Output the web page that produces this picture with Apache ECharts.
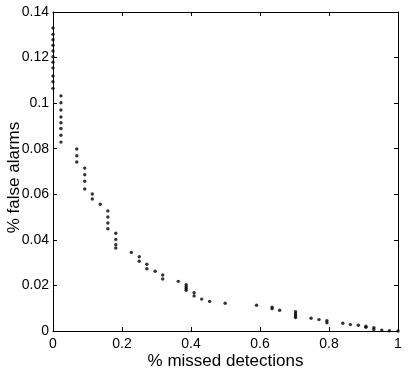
<!DOCTYPE html>
<html>
<head>
<meta charset="utf-8">
<script src="https://cdn.jsdelivr.net/npm/echarts@6/dist/echarts.min.js"></script>
<style>
html, body { margin: 0; padding: 0; background: #fff; }
#main { width: 411px; height: 372px; }
</style>
</head>
<body>
<div id="main"></div>
<script>
// % missed detections (x) and % false alarms (y)
var missed = [
    0, 0, 0, 0, 0, 0, 0, 0, 0, 0, 0,
    0.023, 0.023, 0.023, 0.023, 0.023, 0.023, 0.023, 0.023,
    0.069, 0.069, 0.069,
    0.092, 0.092, 0.092, 0.092,
    0.114, 0.114,
    0.137,
    0.159, 0.159, 0.159, 0.159,
    0.182, 0.182, 0.182, 0.182,
    0.227,
    0.250, 0.250,
    0.272, 0.272,
    0.296,
    0.318, 0.318,
    0.363,
    0.386, 0.386, 0.386, 0.386,
    0.409, 0.409,
    0.431,
    0.454,
    0.499,
    0.590,
    0.635, 0.635,
    0.657,
    0.703, 0.703, 0.703, 0.703,
    0.748,
    0.771,
    0.794, 0.794,
    0.840,
    0.862,
    0.885,
    0.907, 0.907,
    0.930, 0.930,
    0.953,
    0.975,
    1
];
var falseAlarms = [
    0.1330, 0.1302, 0.1278, 0.1254, 0.1229, 0.1204, 0.1180, 0.1155, 0.1119, 0.1094, 0.1065,
    0.1032, 0.1002, 0.0970, 0.0939, 0.0914, 0.0889, 0.0859, 0.0829,
    0.0799, 0.0769, 0.0742,
    0.0715, 0.0686, 0.0657, 0.0623,
    0.0601, 0.0579,
    0.0556,
    0.0527, 0.0500, 0.0474, 0.0449,
    0.0429, 0.0402, 0.0379, 0.0364,
    0.0345,
    0.0326, 0.0306,
    0.0293, 0.0273,
    0.0262,
    0.0246, 0.0228,
    0.0218,
    0.0203, 0.0194, 0.0186, 0.0179,
    0.0168, 0.0154,
    0.0140,
    0.0130,
    0.0122,
    0.0113,
    0.0105, 0.0098,
    0.0091,
    0.0085, 0.0076, 0.0067, 0.0059,
    0.0056,
    0.0050,
    0.0045, 0.0036,
    0.0034,
    0.0028,
    0.0025,
    0.0021, 0.0016,
    0.0015, 0.0007,
    0.0004,
    0.0001,
    0
];

var points = [];
for (var i = 0; i < missed.length; i++) {
    points.push([missed[i], falseAlarms[i]]);
}

var font = "'Liberation Sans', Arial, sans-serif";
var tick = { show: true, inside: true, length: 4, lineStyle: { color: '#000', width: 1 } };
var line = { show: true, onZero: false, lineStyle: { color: '#000', width: 1 } };

function fmt(v) {
    return v == 0 ? '0' : String(+v.toFixed(2));
}

var myChart = echarts.init(document.getElementById('main'));
var option = {
    animation: false,
    backgroundColor: '#fff',
    grid: { left: 53, right: 13, top: 12, bottom: 41, outerBoundsMode: 'none', containLabel: false },
    xAxis: [{
        type: 'value',
        min: 0, max: 1, interval: 0.2,
        name: '% missed detections',
        nameLocation: 'middle',
        nameGap: 22,
        nameMoveOverlap: false,
        nameTextStyle: { color: '#000', fontSize: 17, fontFamily: font, verticalAlign: 'top' },
        axisLine: line,
        axisTick: tick,
        axisLabel: { color: '#000', fontSize: 14, fontFamily: font, margin: 6, formatter: fmt, hideOverlap: false },
        splitLine: { show: false }
    }, {
        type: 'value',
        position: 'top',
        min: 0, max: 1, interval: 0.2,
        axisLine: line,
        axisTick: tick,
        axisLabel: { show: false },
        splitLine: { show: false }
    }],
    yAxis: [{
        type: 'value',
        min: 0, max: 0.14, interval: 0.02,
        name: '% false alarms',
        nameLocation: 'middle',
        nameGap: 39,
        nameMoveOverlap: false,
        nameTextStyle: { color: '#000', fontSize: 17, fontFamily: font, verticalAlign: 'middle', padding: [0, 12, 0, 0] },
        axisLine: line,
        axisTick: tick,
        axisLabel: { color: '#000', fontSize: 14, fontFamily: font, margin: 4, formatter: fmt, hideOverlap: false },
        splitLine: { show: false }
    }, {
        type: 'value',
        position: 'right',
        min: 0, max: 0.14, interval: 0.02,
        axisLine: line,
        axisTick: tick,
        axisLabel: { show: false },
        splitLine: { show: false }
    }],
    series: [{
        type: 'scatter',
        data: points,
        symbol: 'circle',
        symbolSize: 3.4,
        itemStyle: { color: '#000' }
    }]
};
myChart.setOption(option);
</script>
</body>
</html>
